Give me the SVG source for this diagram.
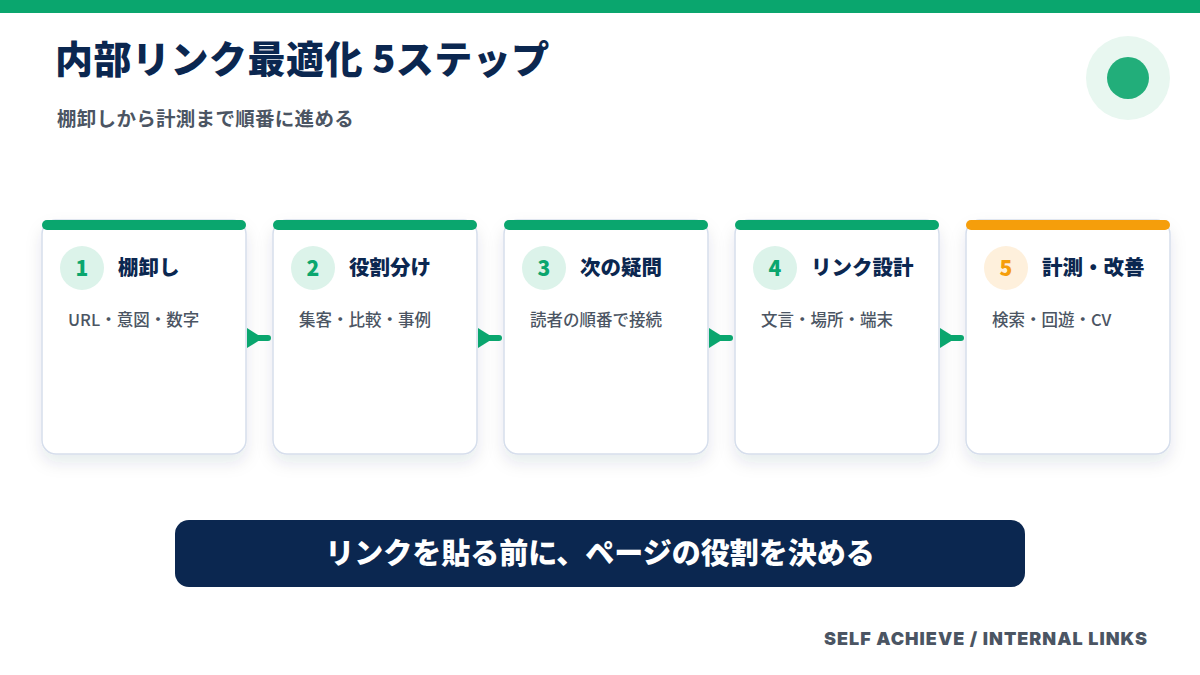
<svg xmlns="http://www.w3.org/2000/svg" width="1200" height="675" viewBox="0 0 1200 675">
<defs>
<style>
.jp{font-family:"Noto Sans CJK JP","Noto Sans",sans-serif}
.title{font-size:38px;font-weight:900;fill:#0B2750;letter-spacing:0.5px}
.sub{font-size:19.5px;font-weight:700;fill:#4B5563;letter-spacing:0.3px}
.card{fill:#fff;stroke:#D6DEEC;stroke-width:1.5}
.ct{font-size:20.5px;font-weight:900;fill:#0B2750}
.cd{font-size:16.5px;font-weight:500;fill:#4B5563}
.num{font-size:21px;font-weight:900;text-anchor:middle}
.arr{stroke:#0AA66E;stroke-width:6;stroke-linecap:round;fill:none}
</style>
<filter id="sh" x="-20%" y="-20%" width="140%" height="150%">
<feDropShadow dx="0" dy="8" stdDeviation="8" flood-color="#1E2A50" flood-opacity="0.10"/>
</filter>
</defs>
<rect width="1200" height="675" fill="#fff"/>
<rect x="0" y="0" width="1200" height="13" fill="#0AA66E"/>
<g id="header">
<text class="jp title" x="55" y="73">内部リンク最適化 5ステップ</text>
<text class="jp sub" x="57" y="126">棚卸しから計測まで順番に進める</text>
</g>
<g id="badge">
<circle cx="1128" cy="78" r="42" fill="#E8F7F0"/>
<circle cx="1128" cy="78" r="21" fill="#22AE7A"/>
</g>
<g id="step1">
<rect class="card" x="42" y="220" width="204" height="234" rx="14" filter="url(#sh)"/>
<rect x="42" y="220" width="204" height="10" rx="5" fill="#0AA66E"/>
<circle cx="82" cy="268" r="22" fill="#DCF3EA"/>
<text class="jp num" x="82" y="276" fill="#0AA66E">1</text>
<text class="jp ct" x="118" y="275">棚卸し</text>
<text class="jp cd" x="68" y="326">URL・意図・数字</text>
</g>
<g id="step2">
<rect class="card" x="273" y="220" width="204" height="234" rx="14" filter="url(#sh)"/>
<rect x="273" y="220" width="204" height="10" rx="5" fill="#0AA66E"/>
<circle cx="313" cy="268" r="22" fill="#DCF3EA"/>
<text class="jp num" x="313" y="276" fill="#0AA66E">2</text>
<text class="jp ct" x="349" y="275">役割分け</text>
<text class="jp cd" x="299" y="326">集客・比較・事例</text>
</g>
<g id="step3">
<rect class="card" x="504" y="220" width="204" height="234" rx="14" filter="url(#sh)"/>
<rect x="504" y="220" width="204" height="10" rx="5" fill="#0AA66E"/>
<circle cx="544" cy="268" r="22" fill="#DCF3EA"/>
<text class="jp num" x="544" y="276" fill="#0AA66E">3</text>
<text class="jp ct" x="580" y="275">次の疑問</text>
<text class="jp cd" x="530" y="326">読者の順番で接続</text>
</g>
<g id="step4">
<rect class="card" x="735" y="220" width="204" height="234" rx="14" filter="url(#sh)"/>
<rect x="735" y="220" width="204" height="10" rx="5" fill="#0AA66E"/>
<circle cx="775" cy="268" r="22" fill="#DCF3EA"/>
<text class="jp num" x="775" y="276" fill="#0AA66E">4</text>
<text class="jp ct" x="811" y="275">リンク設計</text>
<text class="jp cd" x="761" y="326">文言・場所・端末</text>
</g>
<g id="step5">
<rect class="card" x="966" y="220" width="204" height="234" rx="14" filter="url(#sh)"/>
<rect x="966" y="220" width="204" height="10" rx="5" fill="#F59E0B"/>
<circle cx="1006" cy="268" r="22" fill="#FEF0DC"/>
<text class="jp num" x="1006" y="276" fill="#F59E0B">5</text>
<text class="jp ct" x="1042" y="275">計測・改善</text>
<text class="jp cd" x="992" y="326">検索・回遊・CV</text>
</g>
<g id="connectors">
<path class="arr" d="M251,338 H268"/>
<path d="M247,328 L263,338 L247,348 z" fill="#0AA66E"/>
<path class="arr" d="M482,338 H499"/>
<path d="M478,328 L494,338 L478,348 z" fill="#0AA66E"/>
<path class="arr" d="M713,338 H730"/>
<path d="M709,328 L725,338 L709,348 z" fill="#0AA66E"/>
<path class="arr" d="M944,338 H961"/>
<path d="M940,328 L956,338 L940,348 z" fill="#0AA66E"/>
</g>
<g id="banner">
<rect x="175" y="520" width="850" height="67" rx="14" fill="#0B2750"/>
<text class="jp" x="600" y="564" text-anchor="middle" font-size="29" font-weight="900" fill="#fff">リンクを貼る前に、ページの役割を決める</text>
</g>
<g id="footer">
<text x="1148" y="645" text-anchor="end" font-family="Inter, 'Liberation Sans', sans-serif" font-size="18" font-weight="900" letter-spacing="1" fill="#4B5563">SELF ACHIEVE / INTERNAL LINKS</text>
</g>
</svg>
